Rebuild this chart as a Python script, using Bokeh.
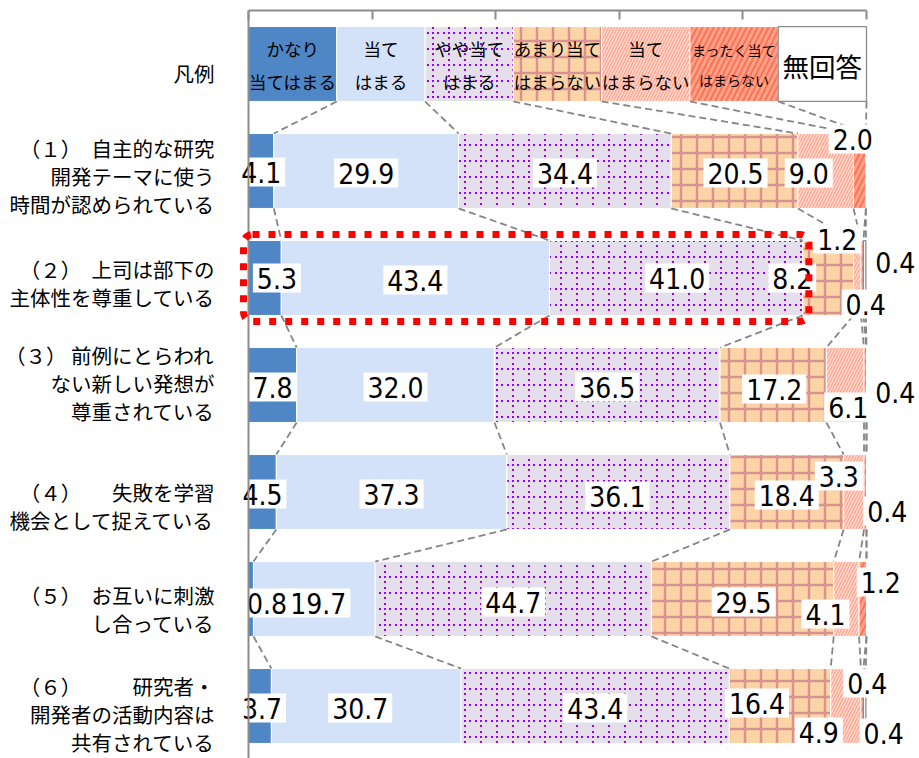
import base64
import struct
import zlib

from bokeh.core.properties import value
from bokeh.embed import file_html
from bokeh.models import (BoxAnnotation, ColumnDataSource, FixedTicker, ImageURLTexture,
                          Range1d, Span)
from bokeh.plotting import figure
from bokeh.resources import INLINE

# ---------------------------------------------------------------- data
categories = [
    "凡例",
    "（１）　自主的な研究\n開発テーマに使う\n時間が認められている",
    "（２）　上司は部下の\n主体性を尊重している",
    "（３） 前例にとらわれ\nない新しい発想が\n尊重されている",
    "（４）　　失敗を学習\n機会として捉えている",
    "（５）　お互いに刺激\nし合っている",
    "（６）　　　研究者・\n開発者の活動内容は\n共有されている",
]
series_names = [
    "かなり\n当てはまる",
    "当て\nはまる",
    "やや当て\nはまる",
    "あまり当て\nはまらない",
    "当て\nはまらない",
    "まったく当て\nはまらない",
    "無回答",
]
kanari = [4.1, 5.3, 7.8, 4.5, 0.8, 3.7]
atehamaru = [29.9, 43.4, 32.0, 37.3, 19.7, 30.7]
yaya = [34.4, 41.0, 36.5, 36.1, 44.7, 43.4]
amari = [20.5, 8.2, 17.2, 18.4, 29.5, 16.4]
atehamaranai = [9.0, 1.2, 6.1, 3.3, 4.1, 4.9]
mattaku = [2.0, 0.4, 0.4, 0.4, 1.2, 0.4]
mukaito = [0.0, 0.4, 0.0, 0.0, 0.0, 0.4]
series_values = [kanari, atehamaru, yaya, amari, atehamaranai, mattaku, mukaito]

# ---------------------------------------------------------------- geometry / style
PX_PER_PCT = 6.18          # screen pixels per percentage point
ROW_PX = 107               # screen pixels per category row
AXIS_X_PX = 248            # where 0 % sits, from the left edge
FRAME_W, FRAME_H = 919, 748
Y_TOP = -0.5
BAR_H = 0.70

AXIS_GRAY = "#8C8C8C"
JP_FONT = "Noto Sans CJK JP"
NUM_FONT = "DejaVu Sans Condensed, DejaVu Sans"

FILLS = ["#4F86C5", "#D3E2F9", "#E5DFEC", "#FCD5A6", "#FFA993", "#FF6F52", "#FFFFFF"]
LEGEND_FONT_PX = [17.5, 17.5, 17.5, 17.5, 17.5, 14, 26.5]
LEGEND_LINE_H = [1.33, 1.33, 1.33, 1.33, 1.33, 1.5, 1.2]


def png_data_url(size, is_on, rgba):
    """Tiny RGBA PNG tile, used as a repeating fill texture."""
    raw = b""
    for yy in range(size):
        row = bytearray([0])
        for xx in range(size):
            row += bytes(rgba) if is_on(xx, yy) else bytes((0, 0, 0, 0))
        raw += bytes(row)

    def chunk(tag, data):
        return (struct.pack(">I", len(data)) + tag + data
                + struct.pack(">I", zlib.crc32(tag + data) & 0xFFFFFFFF))

    png = (b"\x89PNG\r\n\x1a\n"
           + chunk(b"IHDR", struct.pack(">IIBBBBB", size, size, 8, 6, 0, 0, 0))
           + chunk(b"IDAT", zlib.compress(raw))
           + chunk(b"IEND", b""))
    return "data:image/png;base64," + base64.b64encode(png).decode()


DOTS = {0, 1, 5, 6, 11, 12}
dotted_grid = ImageURLTexture(url=png_data_url(
    16, lambda x, y: (y < 2 and x in DOTS) or (x < 2 and y in DOTS), (150, 0, 255, 255)))

HATCH = [
    {},
    {},
    dict(hatch_pattern=value("dotgrid"), hatch_extra={"dotgrid": dotted_grid}),
    dict(hatch_pattern="+", hatch_color="#D9928F", hatch_weight=2.5, hatch_scale=16),
    dict(hatch_pattern="/", hatch_color="#FFFFFF", hatch_alpha=0.6, hatch_weight=1.3,
         hatch_scale=6),
    dict(hatch_pattern="/", hatch_color="#FFA28A", hatch_weight=3, hatch_scale=11),
    {},
]

# label nudges in screen pixels (right, down) from the segment centre
NUDGE = {
    (0, 0): (0, 1), (0, 1): (0, 2), (0, 2): (0, 2), (0, 3): (1, 2), (0, 4): (-17, 2),
    (0, 5): (-7, -32),
    (1, 0): (12, 0), (1, 1): (0, 2), (1, 2): (1, 0), (1, 3): (-36, 0), (1, 4): (-20, -39),
    (1, 5): (33, -16), (1, 6): (1, 26),
    (2, 0): (0, 2), (2, 1): (0, 2), (2, 2): (0, 2), (2, 3): (1, 4), (2, 4): (3, 22),
    (2, 5): (30, 7),
    (3, 0): (0, 2), (3, 1): (0, 2), (3, 2): (-1, 4), (3, 3): (0, 3), (3, 4): (-15, -16),
    (3, 5): (22, 19),
    (4, 0): (16, 4), (4, 1): (4, 4), (4, 2): (0, 3), (4, 3): (1, 3), (4, 4): (-21, 15),
    (4, 5): (18, -17),
    (5, 0): (2, 2), (5, 1): (-6, 2), (5, 2): (0, 2), (5, 3): (-23, -3), (5, 4): (-27, 26),
    (5, 5): (5, -23), (5, 6): (19, 27),
}
CATEGORY_DY = [9, 5, 5, -2, 14, 10, 8]
CATEGORY_GAP_PX = 34

# ---------------------------------------------------------------- figure
x_start = -AXIS_X_PX / PX_PER_PCT
p = figure(
    width=919, height=758,
    x_range=Range1d(x_start, x_start + FRAME_W / PX_PER_PCT),
    y_range=Range1d(Y_TOP + FRAME_H / ROW_PX, Y_TOP),
    x_axis_location="above", y_axis_location=None,
    min_border_left=0, min_border_right=0, min_border_top=10, min_border_bottom=0,
    output_backend="svg", toolbar_location=None,
)
p.outline_line_color = None
p.grid.visible = False
p.background_fill_color = "white"

tick_values = [0, 20, 40, 60, 80, 100]
ax = p.xaxis[0]
ax.ticker = FixedTicker(ticks=tick_values)
ax.bounds = (0, 100)
ax.major_label_overrides = {t: "" for t in tick_values}
ax.major_label_standoff = 0
ax.major_tick_in = 9
ax.major_tick_out = 0
ax.minor_tick_in = 0
ax.minor_tick_out = 0
ax.axis_line_color = AXIS_GRAY
ax.axis_line_width = 2
ax.major_tick_line_color = AXIS_GRAY
ax.major_tick_line_width = 2

# rows: 0 = legend strip (equal shares), 1.. = survey items
n_series = len(series_names)
row_widths = [[100 / n_series] * n_series]
for r in range(len(kanari)):
    row_widths.append([series_values[s][r] for s in range(n_series)])

row_cums = []
for widths in row_widths:
    c = [0.0]
    for w in widths:
        c.append(c[-1] + w)
    row_cums.append(c)

# stacked segments, one renderer per response option
for s in range(n_series):
    ys, lefts, rights = [], [], []
    for r, widths in enumerate(row_widths):
        if widths[s] > 0:
            ys.append(r)
            lefts.append(row_cums[r][s])
            rights.append(row_cums[r][s + 1])
    src = ColumnDataSource(dict(y=ys, left=lefts, right=rights))
    is_blank = s == n_series - 1
    p.hbar(y="y", left="left", right="right", height=BAR_H, source=src,
           fill_color=FILLS[s],
           line_color=AXIS_GRAY if is_blank else "white",
           line_width=1.3 if is_blank else 1,
           **HATCH[s])

# series lines joining matching boundaries of neighbouring bars
x0, y0, x1, y1 = [], [], [], []
for r in range(len(row_cums) - 1):
    for k in range(1, n_series + 1):
        x0.append(row_cums[r][k])
        y0.append(r + BAR_H / 2)
        x1.append(row_cums[r + 1][k])
        y1.append(r + 1 - BAR_H / 2)
p.segment(x0=x0, y0=y0, x1=x1, y1=y1, line_color="#858585", line_width=1.8,
          line_dash="7 4")

# category axis line at 0 %
p.add_layout(Span(location=0, dimension="height", line_color=AXIS_GRAY, line_width=2))

# legend captions inside the legend strip
p.text(x=[(k + 0.5) * 100 / n_series for k in range(n_series)],
       y=[0.01] * n_series, text=series_names,
       text_font=value(JP_FONT),
       text_font_size=[f"{f}px" for f in LEGEND_FONT_PX],
       text_line_height=LEGEND_LINE_H,
       text_align="center", text_baseline="middle", text_color="black")

# value labels
lx, ly, lt = [], [], []
for r in range(len(kanari)):
    cums = row_cums[r + 1]
    for s in range(n_series):
        v = series_values[s][r]
        if v <= 0:
            continue
        dx, dy = NUDGE.get((r, s), (0, 0))
        lx.append((cums[s] + cums[s + 1]) / 2 + dx / PX_PER_PCT)
        ly.append(r + 1 + dy / ROW_PX)
        lt.append(f"{v:.1f}")
p.text(x=lx, y=ly, text=lt, text_font=value(NUM_FONT), text_font_size="28px",
       text_align="center", text_baseline="middle", text_color="black",
       background_fill_color="white",
       padding=dict(left=4, right=4, top=4, bottom=4))

# category captions left of the axis
p.text(x=[-CATEGORY_GAP_PX / PX_PER_PCT] * len(categories),
       y=[i + CATEGORY_DY[i] / ROW_PX for i in range(len(categories))],
       text=categories, text_font=value(JP_FONT), text_font_size="20.5px",
       text_line_height=0.93, text_align="right", text_baseline="middle",
       text_color="black")

# highlight around item (2): share of positive answers
HL_ROW = 1
hl_right = sum(series_values[s][HL_ROW] for s in range(3))
p.add_layout(BoxAnnotation(
    left=-5 / PX_PER_PCT, right=hl_right + 6 / PX_PER_PCT,
    top=HL_ROW + 1 - BAR_H / 2 - 6 / ROW_PX, bottom=HL_ROW + 1 + BAR_H / 2 + 6 / ROW_PX,
    fill_alpha=0, line_color="#FF0000", line_alpha=1, line_width=7, line_dash="7 9",
    border_radius=9))

open("out.html", "w").write(file_html(p, INLINE))
